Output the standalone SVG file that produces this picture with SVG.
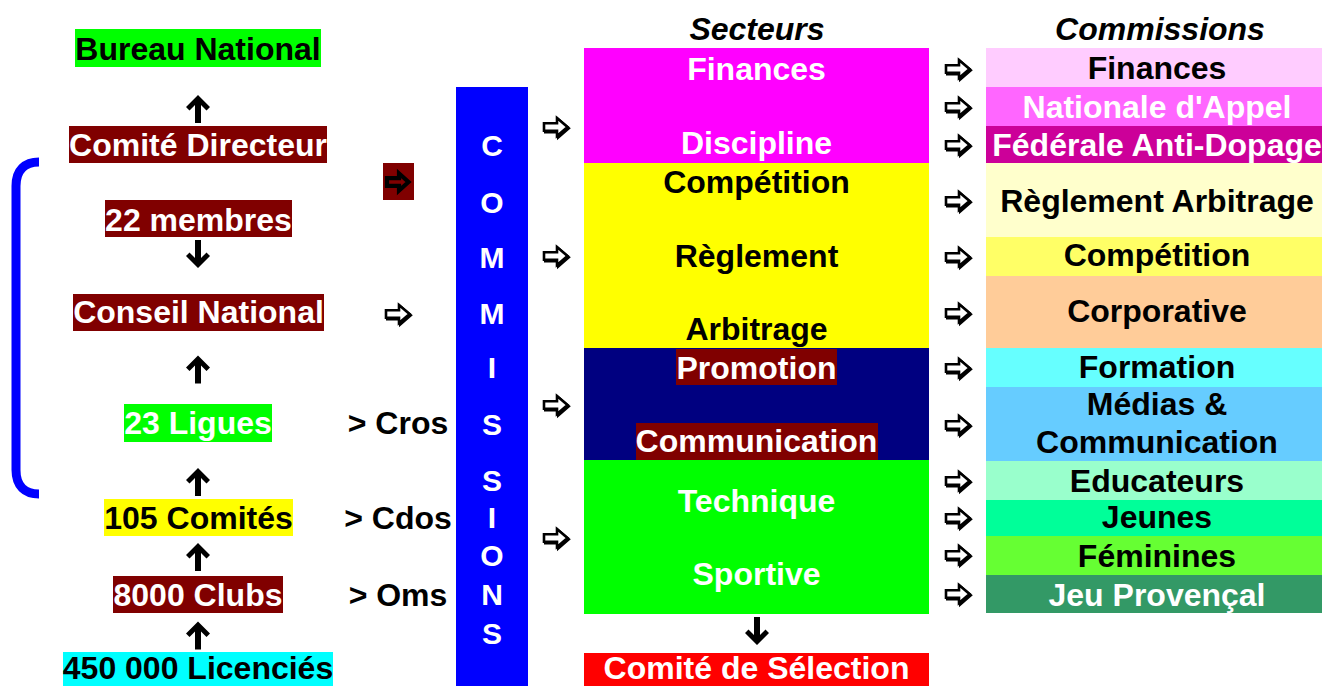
<svg xmlns="http://www.w3.org/2000/svg" width="1322" height="686" viewBox="0 0 1322 686">
<style>
text{font-family:"Liberation Sans",Arial,sans-serif;font-weight:bold;font-size:32px;text-anchor:middle}
.w{fill:#fff}.k{fill:#000}
.hd{font-style:italic}
.let{font-size:30px;fill:#fff}
.oa{fill:#fff;stroke:#000;stroke-width:2.6;stroke-linejoin:miter}
.oas{fill:#000;stroke:#000;stroke-width:2.6}
.ua{fill:#000}
</style>
<defs>
<path id="up" d="M0 -14 L12 -2 L8.5 1.5 L3 -4 V14 H-3 V-4 L-8.5 1.5 L-12 -2 Z"/>
<g id="ra">
<path class="oas" transform="translate(1.3,1.3)" d="M-12 -3.8 H1 V-9 L11.5 0 L1 9 V3.8 H-12 Z"/>
<path class="oa" d="M-12 -3.8 H1 V-9 L11.5 0 L1 9 V3.8 H-12 Z"/>
</g>
<g id="rab">
<path fill="none" stroke="#000" stroke-width="4.2" stroke-linejoin="miter" d="M-11 -3.8 H1 V-8.5 L10.5 0 L1 8.5 V3.8 H-11 Z"/>
</g>
</defs>
<rect width="1322" height="686" fill="#fff"/>

<!-- Left hierarchy -->
<g id="bureau-national"><rect x="75" y="29" width="246" height="38" fill="#00FF00"/><text x="198" y="59.5" class="k">Bureau National</text></g>
<g id="comite-directeur"><rect x="69" y="126" width="258" height="37" fill="#800000"/><text x="198" y="156" class="w">Comité Directeur</text></g>
<g id="membres"><rect x="105" y="200" width="187" height="37" fill="#800000"/><text x="198.5" y="231" class="w">22 membres</text></g>
<g id="conseil-national"><rect x="73" y="294" width="251" height="37" fill="#800000"/><text x="198.5" y="323" class="w">Conseil National</text></g>
<g id="ligues"><rect x="124" y="404" width="148" height="38" fill="#00FF00"/><text x="198" y="434" class="w">23 Ligues</text><text x="398" y="434" class="k">&gt; Cros</text></g>
<g id="comites"><rect x="104" y="499" width="189" height="37" fill="#FFFF00"/><text x="198.5" y="529" class="k">105 Comités</text><text x="398" y="529" class="k">&gt; Cdos</text></g>
<g id="clubs"><rect x="113" y="576" width="170" height="37" fill="#800000"/><text x="198" y="606" class="w">8000 Clubs</text><text x="398" y="606" class="k">&gt; Oms</text></g>
<g id="licencies"><rect x="63" y="652" width="270" height="37" fill="#00FFFF"/><text x="198" y="679" class="k">450 000 Licenciés</text></g>
<g id="small-box"><rect x="383" y="163" width="31" height="37" fill="#800000"/></g>

<g id="bracket"><path d="M39 162 C25 162 16 170 16 186 V470 C16 486 25 494 39 494" fill="none" stroke="#0000FF" stroke-width="9"/></g>

<!-- Commissions column -->
<g id="commissions-bar">
<rect x="456" y="87" width="72" height="600" fill="#0000FF"/>
<text x="492" y="156" class="let">C</text>
<text x="492" y="213" class="let">O</text>
<text x="492" y="268" class="let">M</text>
<text x="492" y="324" class="let">M</text>
<text x="492" y="378" class="let">I</text>
<text x="492" y="435" class="let">S</text>
<text x="492" y="491" class="let">S</text>
<text x="492" y="528" class="let">I</text>
<text x="492" y="566" class="let">O</text>
<text x="492" y="605" class="let">N</text>
<text x="492" y="644" class="let">S</text>
</g>

<!-- Secteurs -->
<g id="secteurs-title"><text x="757" y="40" class="k hd">Secteurs</text></g>
<g id="sect-finances"><rect x="584" y="48" width="345" height="115" fill="#FF00FF"/><text x="756.5" y="80" class="w">Finances</text><text x="756.5" y="154" class="w">Discipline</text></g>
<g id="sect-competition"><rect x="584" y="163" width="345" height="185" fill="#FFFF00"/><text x="756.5" y="193" class="k">Compétition</text><text x="756.5" y="267" class="k">Règlement</text><text x="756.5" y="340" class="k">Arbitrage</text></g>
<g id="sect-promotion"><rect x="584" y="348" width="345" height="112" fill="#000080"/><rect x="676" y="349" width="161" height="36" fill="#800000"/><text x="756.5" y="379" class="w">Promotion</text><rect x="636" y="423" width="242" height="37" fill="#800000"/><text x="756.5" y="452" class="w">Communication</text></g>
<g id="sect-technique"><rect x="584" y="460" width="345" height="154" fill="#00FF00"/><text x="756.5" y="512" class="w">Technique</text><text x="756.5" y="585" class="w">Sportive</text></g>
<g id="comite-selection"><rect x="584" y="653" width="345" height="40" fill="#FF0000"/><text x="756.5" y="679" class="w">Comité de Sélection</text></g>

<!-- Commissions list -->
<g id="commissions-title"><text x="1160" y="40" class="k hd">Commissions</text></g>
<g id="c-finances"><rect x="986" y="48" width="336" height="39" fill="#FFCCFF"/><text x="1157" y="79" class="k">Finances</text></g>
<g id="c-appel"><rect x="986" y="87" width="336" height="39" fill="#FF66FF"/><text x="1157" y="118" class="w">Nationale d'Appel</text></g>
<g id="c-dopage"><rect x="986" y="126" width="336" height="37" fill="#CC0099"/><text x="1157" y="156" class="w">Fédérale Anti-Dopage</text></g>
<g id="c-reglement"><rect x="986" y="163" width="336" height="74" fill="#FFFFCC"/><text x="1157" y="212" class="k">Règlement Arbitrage</text></g>
<g id="c-competition"><rect x="986" y="237" width="336" height="39" fill="#FFFF66"/><text x="1157" y="266" class="k">Compétition</text></g>
<g id="c-corporative"><rect x="986" y="276" width="336" height="72" fill="#FFCC99"/><text x="1157" y="322" class="k">Corporative</text></g>
<g id="c-formation"><rect x="986" y="348" width="336" height="39" fill="#66FFFF"/><text x="1157" y="378" class="k">Formation</text></g>
<g id="c-medias"><rect x="986" y="387" width="336" height="74" fill="#66CCFF"/><text x="1157" y="415" class="k">Médias &amp;</text><text x="1157" y="453" class="k">Communication</text></g>
<g id="c-educateurs"><rect x="986" y="461" width="336" height="39" fill="#99FFCC"/><text x="1157" y="492" class="k">Educateurs</text></g>
<g id="c-jeunes"><rect x="986" y="500" width="336" height="36" fill="#00FF99"/><text x="1157" y="528" class="k">Jeunes</text></g>
<g id="c-feminines"><rect x="986" y="536" width="336" height="39" fill="#66FF33"/><text x="1157" y="567" class="k">Féminines</text></g>
<g id="c-provencal"><rect x="986" y="575" width="336" height="38" fill="#339966"/><text x="1157" y="606" class="w">Jeu Provençal</text></g>

<!-- Connectors -->
<g id="connectors">
<use href="#up" class="ua" x="198" y="109"/>
<use href="#up" class="ua" transform="translate(198,254) rotate(180)"/>
<use href="#up" class="ua" x="198" y="369.5"/>
<use href="#up" class="ua" x="198" y="482"/>
<use href="#up" class="ua" x="198" y="557"/>
<use href="#up" class="ua" x="198" y="635.5"/>
<use href="#up" class="ua" transform="translate(757,631) rotate(180)"/>
<use href="#rab" x="398" y="182"/>
<use href="#ra" x="398" y="314"/>
<use href="#ra" x="556" y="127"/>
<use href="#ra" x="556" y="256"/>
<use href="#ra" x="556" y="405"/>
<use href="#ra" x="556" y="538"/>
<use href="#ra" x="958" y="69"/>
<use href="#ra" x="958" y="107"/>
<use href="#ra" x="958" y="145"/>
<use href="#ra" x="958" y="201"/>
<use href="#ra" x="958" y="257"/>
<use href="#ra" x="958" y="313"/>
<use href="#ra" x="958" y="368"/>
<use href="#ra" x="958" y="425"/>
<use href="#ra" x="958" y="481"/>
<use href="#ra" x="958" y="518"/>
<use href="#ra" x="958" y="555"/>
<use href="#ra" x="958" y="594"/>
</g>
</svg>
